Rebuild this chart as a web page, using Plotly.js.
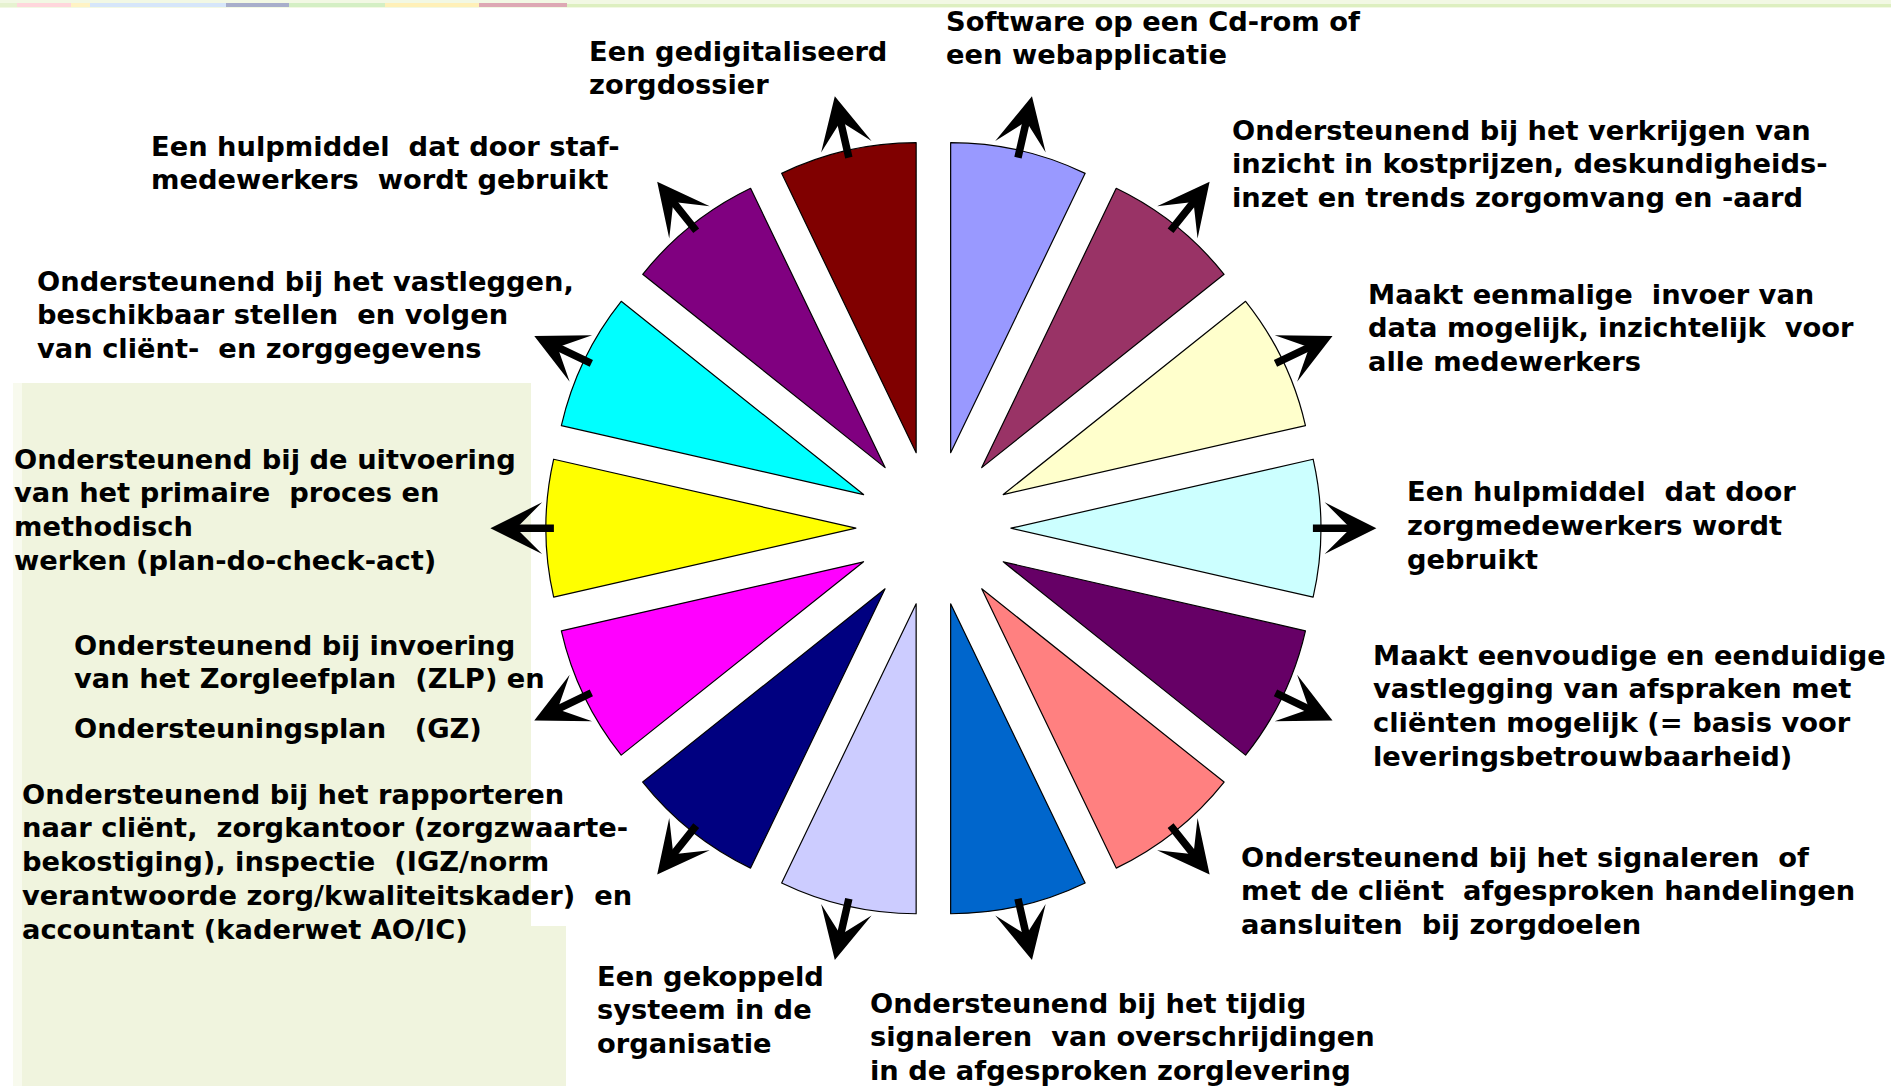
<!DOCTYPE html>
<html>
<head>
<meta charset="utf-8">
<script src="https://cdn.plot.ly/plotly-3.0.1.min.js"></script>
<style>html,body{margin:0;padding:0;background:#fff;}#chart{width:1891px;height:1086px;}</style>
</head>
<body>
<div id="chart"></div>
<script>
// ---- data (clockwise from 12 o'clock) ----
const categories = [
  "Software op een Cd-rom of<br>een webapplicatie",
  "Ondersteunend bij het verkrijgen van<br>inzicht in kostprijzen, deskundigheids-<br>inzet en trends zorgomvang en -aard",
  "Maakt eenmalige  invoer van<br>data mogelijk, inzichtelijk  voor<br>alle medewerkers",
  "Een hulpmiddel  dat door<br>zorgmedewerkers wordt<br>gebruikt",
  "Maakt eenvoudige en eenduidige<br>vastlegging van afspraken met<br>cliënten mogelijk (= basis voor<br>leveringsbetrouwbaarheid)",
  "Ondersteunend bij het signaleren  of<br>met de cliënt  afgesproken handelingen<br>aansluiten  bij zorgdoelen",
  "Ondersteunend bij het tijdig<br>signaleren  van overschrijdingen<br>in de afgesproken zorglevering",
  "Een gekoppeld<br>systeem in de<br>organisatie",
  "Ondersteunend bij het rapporteren<br>naar cliënt,  zorgkantoor (zorgzwaarte-<br>bekostiging), inspectie  (IGZ/norm<br>verantwoorde zorg/kwaliteitskader)  en<br>accountant (kaderwet AO/IC)",
  "Ondersteunend bij invoering<br>van het Zorgleefplan  (ZLP) en<br>Ondersteuningsplan   (GZ)",
  "Ondersteunend bij de uitvoering<br>van het primaire  proces en<br>methodisch<br>werken (plan-do-check-act)",
  "Ondersteunend bij het vastleggen,<br>beschikbaar stellen  en volgen<br>van cliënt-  en zorggegevens",
  "Een hulpmiddel  dat door staf-<br>medewerkers  wordt gebruikt",
  "Een gedigitaliseerd<br>zorgdossier"
];
const values = [1,1,1,1,1,1,1,1,1,1,1,1,1,1];
const sliceColors = ["#9999FF","#993366","#FFFFCC","#CCFFFF","#660066","#FF8080","#0066CC",
                     "#CCCCFF","#000080","#FF00FF","#FFFF00","#00FFFF","#800080","#800000"];

// ---- layout (pixels) ----
const W = 1891, H = 1086;
const CX = 933.4, CY = 528.2, OUTER = 387.5, PULL = 0.25;
// label block positions: left x, centre y of first line, extra gap before a given line
const labelPos = [
  {x:944, y:21}, {x:1230, y:130}, {x:1366, y:294}, {x:1405, y:492},
  {x:1371, y:655}, {x:1239, y:857}, {x:868, y:1003}, {x:595, y:976},
  {x:20, y:794}, {x:72, y:645, gapAt:2, gap:16}, {x:12, y:459}, {x:35, y:281},
  {x:149, y:146}, {x:587, y:51}
];
const LINE_H = 33.8;
const ARROW_BASE = 378, ARROW_TIP = 443;

const px = v => v / W, py = v => 1 - v / H;
const annotations = [];
const total = values.reduce((a,b)=>a+b,0);
let acc = 0;
values.forEach((v, i) => {
  const mid = (acc + v/2) / total * 2 * Math.PI; acc += v;
  const s = Math.sin(mid), c = Math.cos(mid);
  annotations.push({
    xref:'paper', yref:'paper', x: px(CX + ARROW_TIP*s), y: py(CY - ARROW_TIP*c),
    ax: -(ARROW_TIP-ARROW_BASE)*s, ay: (ARROW_TIP-ARROW_BASE)*c,
    text:' ', font:{size:1}, showarrow:true, arrowhead:3, arrowsize:1.15, arrowwidth:7.5,
    arrowcolor:'#000', standoff:0, startstandoff:0
  });
  const lines = categories[i].split('<br>');
  const p = labelPos[i];
  lines.forEach((ln, j) => {
    let y = p.y + j*LINE_H + ((p.gapAt !== undefined && j >= p.gapAt) ? p.gap : 0);
    annotations.push({
      xref:'paper', yref:'paper', x: px(p.x), y: py(y), xanchor:'left', yanchor:'middle',
      text:'<b>' + ln.replace(/  /g, '\u00A0 ') + '</b>', showarrow:false,
      font:{family:'DejaVu Sans, Verdana, sans-serif', size:27.3, color:'#000'}
    });
  });
});

const stripColors = ["#E6F2D0","#FFD6DC","#FFF3C4","#D6E6FA","#A8AECB","#D4EFC4","#FFF0B8","#DDA8B4"];
const stripEdges = [0,17,71,90,226,289,385,479,567];
const shapes = [
  {type:'rect', xref:'paper', yref:'paper', x0:0, x1:1, y0:py(8), y1:1, fillcolor:'#F2F8E4', line:{width:0}, layer:'below'},
  {type:'rect', xref:'paper', yref:'paper', x0:0, x1:1, y0:py(7), y1:py(4), fillcolor:'#DDEFC0', line:{width:0}, layer:'below'},
  // left panel
  {type:'rect', xref:'paper', yref:'paper', x0:px(17), x1:px(531), y0:py(926), y1:py(383), fillcolor:'#F0F4DE', line:{width:0}, layer:'below'},
  {type:'rect', xref:'paper', yref:'paper', x0:px(17), x1:px(566), y0:0, y1:py(926), fillcolor:'#F0F4DE', line:{width:0}, layer:'below'},
  {type:'rect', xref:'paper', yref:'paper', x0:px(13), x1:px(22), y0:0, y1:py(383), fillcolor:'#F8FAEE', line:{width:0}, layer:'below'}
];
for (let k = 0; k < stripColors.length; k++) {
  shapes.push({type:'rect', xref:'paper', yref:'paper', x0:px(stripEdges[k]), x1:px(stripEdges[k+1]),
    y0:py(7), y1:py(3), fillcolor:stripColors[k], line:{width:0}, layer:'below'});
}

const trace = {
  type:'pie', labels: categories.map((c,i)=>'s'+i), values: values, sort:false,
  direction:'clockwise', rotation:0, pull: values.map(()=>PULL),
  marker:{colors: sliceColors, line:{color:'#000', width:1.2}},
  textinfo:'none', hoverinfo:'none', showlegend:false,
  domain:{x:[px(CX-OUTER), px(CX+OUTER)], y:[py(CY+OUTER), py(CY-OUTER)]}
};

Plotly.newPlot('chart', [trace], {
  width:W, height:H, margin:{l:0,r:0,t:0,b:0},
  paper_bgcolor:'#fff', plot_bgcolor:'#fff', showlegend:false,
  annotations: annotations, shapes: shapes
}, {staticPlot:true});
</script>
</body>
</html>
